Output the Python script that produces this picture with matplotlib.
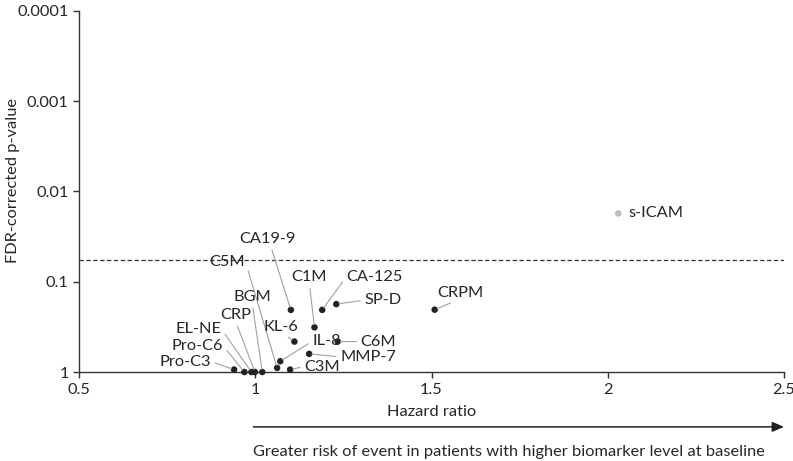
import numpy as np
import matplotlib
matplotlib.use("Agg")
import matplotlib.pyplot as plt
from matplotlib.ticker import FixedLocator, NullLocator

plt.rcParams['font.family'] = ['Lato', 'DejaVu Sans']

# biomarker, hazard ratio, FDR-corrected p-value
markers = ['Pro-C3', 'Pro-C6', 'EL-NE', 'CRP', 'BGM', 'C5M', 'IL-8', 'C3M', 'KL-6',
           'MMP-7', 'C6M', 'C1M', 'CA19-9', 'CA-125', 'SP-D', 'CRPM', 's-ICAM']
hazard = [0.940, 0.969, 0.989, 0.999, 1.020, 1.062, 1.071, 1.099, 1.111,
          1.153, 1.234, 1.168, 1.101, 1.190, 1.230, 1.509, 2.030]
pvals = [0.94, 1.0, 1.0, 1.0, 1.0, 0.90, 0.76, 0.94, 0.46,
         0.63, 0.46, 0.32, 0.205, 0.205, 0.177, 0.204, 0.0175]
threshold = 0.058

yticks = [1, 0.1, 0.01, 0.001, 0.0001]
ytick_labels = ['1', '0.1', '0.01', '0.001', '0.0001']
xticks = [0.5, 1, 1.5, 2, 2.5]
xtick_labels = ['0.5', '1', '1.5', '2', '2.5']

# label placement: offset in pixels from the point, alignment, leader start
label_style = {
    'Pro-C3': ((-23, 8), 'right', (1, 0.5)),
    'Pro-C6': ((-21, 26), 'right', (1, 0.5)),
    'EL-NE': ((-30, 43), 'right', (1, 0.5)),
    'CRP': ((-19, 57), 'center', (0.5, 0)),
    'BGM': ((-10, 75), 'center', (0.5, 0)),
    'C5M': ((-32, 106), 'right', (1, 0.6)),
    'IL-8': ((32, 20), 'left', (0, 0.5)),
    'C3M': ((14, 3), 'left', (0, 0.5)),
    'KL-6': ((-13, 15), 'center', (0.55, 0)),
    'MMP-7': ((31, -3), 'left', (0, 0.5)),
    'C6M': ((23, 0), 'left', (0, 0.5)),
    'C1M': ((-5, 50), 'center', (0.5, 0)),
    'CA19-9': ((-23, 71), 'center', (0.55, 0)),
    'CA-125': ((24, 33), 'left', (0, 0.5)),
    'SP-D': ((28, 4), 'left', (0, 0.5)),
    'CRPM': ((26, 17), 'center', (0.45, 0)),
    's-ICAM': ((10, 0), 'left', None),
}

FS = 11.8
TXT = '#262626'

fig = plt.figure(figsize=(7.93, 4.61), dpi=100)
ax = fig.add_axes([79 / 793, 89 / 461, 705 / 793, 361 / 461])

colors = ['#bbbbbb' if m == 's-ICAM' else '#222222' for m in markers]
ax.scatter(hazard, pvals, s=22, c=colors, zorder=3, clip_on=False, linewidths=0)

for m, x, p in zip(markers, hazard, pvals):
    off, ha, rel = label_style[m]
    arrow = None
    if rel is not None:
        arrow = dict(arrowstyle='-', color='#a0a0a0', lw=0.8, relpos=rel,
                     shrinkA=1, shrinkB=2)
    ax.annotate(m, xy=(x, p), xytext=off, textcoords='offset pixels',
                ha=ha, va='center', fontsize=FS, color=TXT,
                arrowprops=arrow, annotation_clip=False)

ax.axhline(threshold, color='#333333', lw=0.9, ls=(0, (3.5, 2)))

ax.set_yscale('log')
ax.set_ylim(1, 0.0001)
ax.set_xlim(0.5, 2.5)
ax.yaxis.set_major_locator(FixedLocator(yticks))
ax.yaxis.set_minor_locator(NullLocator())
ax.set_yticklabels(ytick_labels)
ax.set_xticks(xticks)
ax.set_xticklabels(xtick_labels)

for s in ['top', 'right']:
    ax.spines[s].set_visible(False)
for s in ['left', 'bottom']:
    ax.spines[s].set_color('#333333')
    ax.spines[s].set_linewidth(1)
ax.tick_params(axis='both', colors='#333333', labelcolor=TXT, labelsize=FS,
               length=4, width=1)
ax.tick_params(axis='x', pad=4)

ax.set_ylabel('FDR-corrected p-value', fontsize=FS, color=TXT)
ax.yaxis.set_label_coords(-59 / 705, 0.53)

tr = ax.get_xaxis_transform()
ax.text(1.5, -0.111, 'Hazard ratio', transform=tr, ha='center', va='center',
        fontsize=FS, color=TXT)
ax.annotate('', xy=(2.5, -0.152), xytext=(0.995, -0.152), xycoords=tr,
            arrowprops=dict(arrowstyle='-|>,head_length=0.7,head_width=0.3',
                            color='#222222', lw=1.1, shrinkA=0, shrinkB=0),
            annotation_clip=False)
ax.text(0.995, -0.222, 'Greater risk of event in patients with higher biomarker level at baseline',
        transform=tr, ha='left', va='center', fontsize=FS, color=TXT)

fig.savefig('out.png', dpi=100)
